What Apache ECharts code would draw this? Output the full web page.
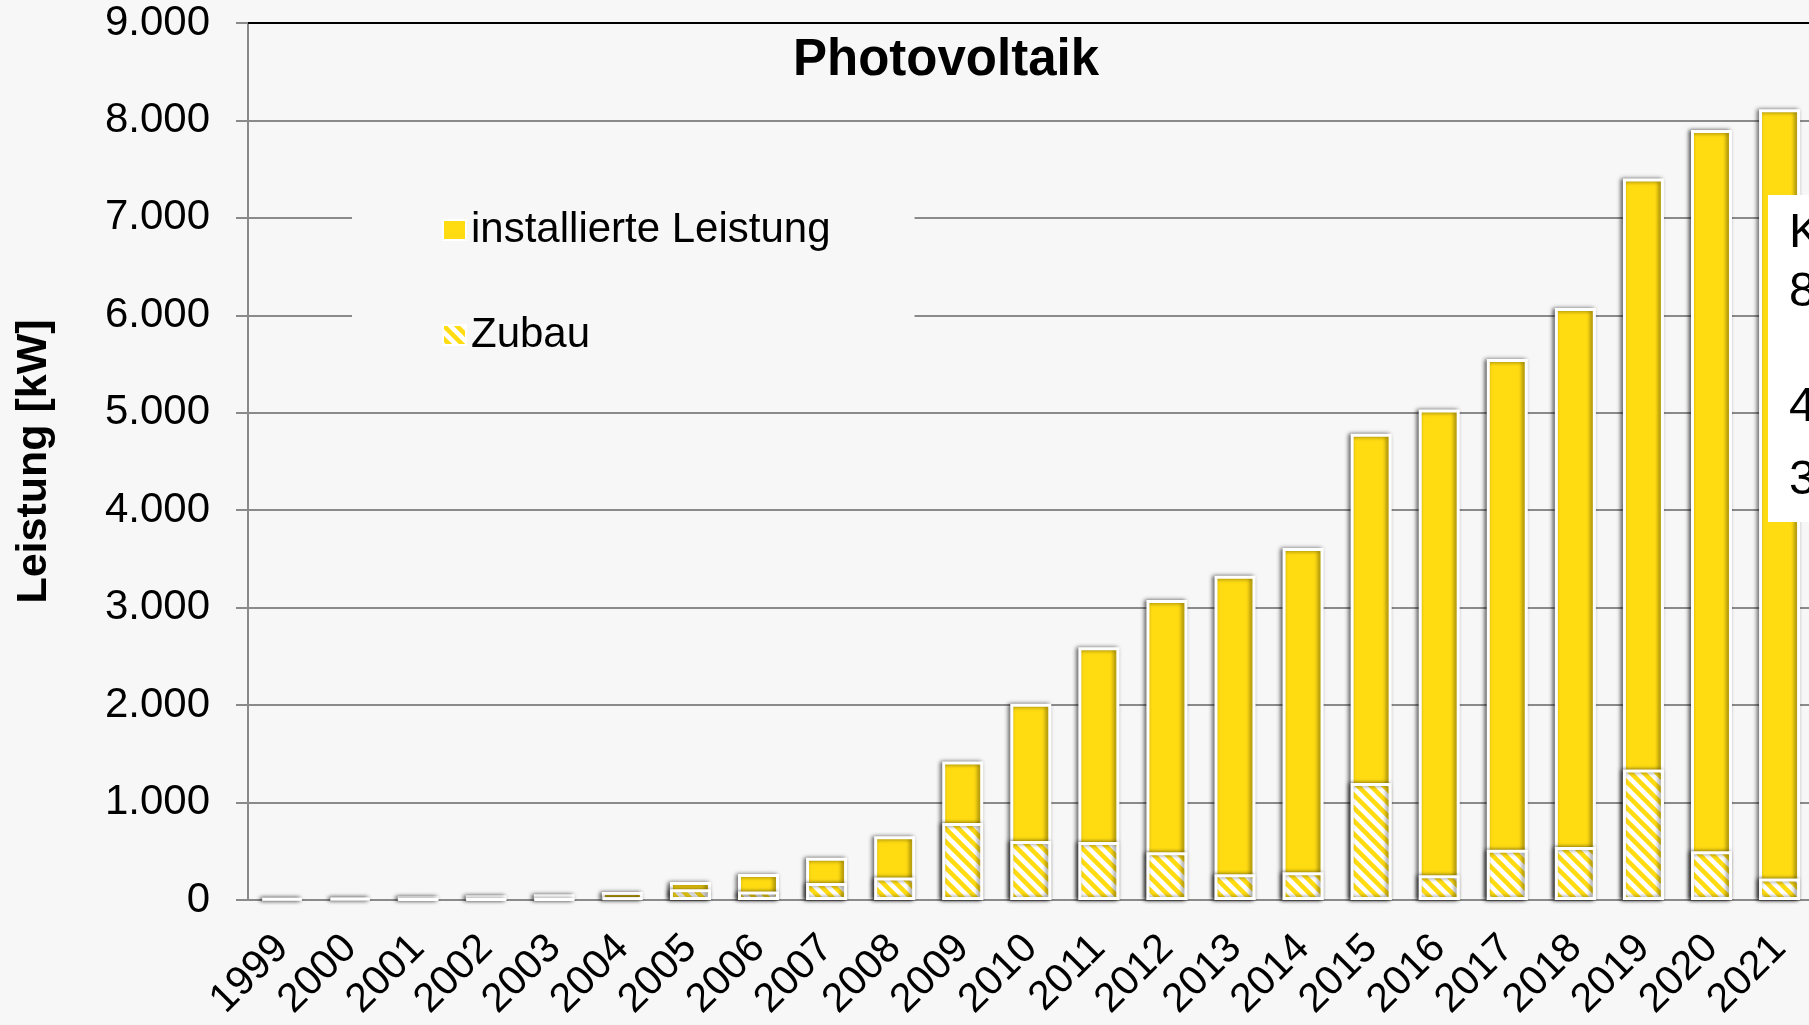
<!DOCTYPE html>
<html>
<head>
<meta charset="utf-8">
<title>Photovoltaik</title>
<script src="https://cdn.jsdelivr.net/npm/echarts@6/dist/echarts.min.js"></script>
<style>
    html, body { margin: 0; padding: 0; overflow: hidden; background: #f7f7f7; }
    #main { width: 1830px; height: 1025px; }
</style>
</head>
<body>
<div id="main"></div>
<script>
    // Daten
    var years = ['1999', '2000', '2001', '2002', '2003', '2004', '2005', '2006', '2007', '2008', '2009', '2010',
        '2011', '2012', '2013', '2014', '2015', '2016', '2017', '2018', '2019', '2020', '2021'];
    var installiert = [15, 30, 38, 48, 58, 82, 184, 266, 433, 655, 1421, 2013,
        2594, 3079, 3328, 3612, 4784, 5033, 5551, 6074, 7405, 7902, 8114];
    var zubau = [15, 14, 8, 10, 10, 24, 110, 88, 175, 230, 790, 605,
        595, 490, 265, 285, 1200, 255, 515, 545, 1340, 500, 220];
    var yTicks = [0, 1000, 2000, 3000, 4000, 5000, 6000, 7000, 8000, 9000];

    var yellow = '#FFDC12';
    var grey = '#8a8a8a';
    var font = 'Liberation Sans, Arial, sans-serif';

    // Schraffur fuer Zubau
    var p = 13;
    var hatch = document.createElement('canvas');
    hatch.width = p;
    hatch.height = p;
    var ctx = hatch.getContext('2d');
    ctx.fillStyle = '#ffffff';
    ctx.fillRect(0, 0, p, p);
    ctx.strokeStyle = yellow;
    ctx.lineWidth = 4.5;
    ctx.beginPath();
    [-p, 0, p].forEach(function (c) {
        ctx.moveTo(c - 2, -2);
        ctx.lineTo(c + p + 2, p + 2);
    });
    ctx.stroke();

    function deNumber(v) {
        return String(v).replace(/\B(?=(\d{3})+(?!\d))/g, '.');
    }

    var barStyle = {
        borderColor: '#ffffff',
        borderWidth: 3,
        shadowColor: 'rgba(0, 0, 0, 0.55)',
        shadowBlur: 4,
        shadowOffsetX: -2
    };

    var option = {
        backgroundColor: '#f7f7f7',
        animation: false,
        textStyle: { fontFamily: font },
        title: {
            text: 'Photovoltaik',
            left: 793,
            top: 35,
            padding: 0,
            textStyle: { fontSize: 51, fontWeight: 'bold', color: '#000', fontFamily: font }
        },
        legend: {
            orient: 'vertical',
            left: 352,
            top: 175,
            padding: [30, 84, 30, 90],
            backgroundColor: '#f7f7f7',
            itemGap: 55,
            itemWidth: 23,
            itemHeight: 20,
            icon: 'rect',
            textStyle: { fontSize: 42, lineHeight: 50, color: '#000', fontFamily: font },
            data: ['installierte Leistung', 'Zubau']
        },
        grid: {
            left: 248,
            top: 23,
            width: 1565.6,
            height: 877
        },
        xAxis: [
            {
                type: 'category',
                data: years,
                axisLine: { lineStyle: { color: grey, width: 2 } },
                axisTick: { length: 12, lineStyle: { color: grey, width: 2 } },
                axisLabel: { interval: 0, rotate: 45, margin: 42, fontSize: 41, color: '#000', fontFamily: font }
            },
            {
                // obere Rahmenlinie
                type: 'category',
                position: 'top',
                data: years,
                axisLine: { lineStyle: { color: '#000', width: 2 } },
                axisTick: { show: false },
                axisLabel: { show: false }
            }
        ],
        yAxis: {
            type: 'value',
            min: yTicks[0],
            max: yTicks[yTicks.length - 1],
            interval: 1000,
            name: 'Leistung [kW]',
            nameLocation: 'middle',
            nameRotate: 90,
            nameGap: 192,
            nameTextStyle: { fontSize: 43, fontWeight: 'bold', color: '#000', fontFamily: font },
            axisLine: { show: true, lineStyle: { color: grey, width: 2 } },
            axisTick: { show: true, length: 12, lineStyle: { color: grey, width: 2 } },
            axisLabel: { margin: 38, fontSize: 42, color: '#000', fontFamily: font, formatter: deNumber },
            splitLine: { lineStyle: { color: grey, width: 2 } }
        },
        series: [
            {
                name: 'installierte Leistung',
                type: 'bar',
                barWidth: 41,
                data: installiert,
                itemStyle: Object.assign({ color: yellow }, barStyle)
            },
            {
                name: 'Zubau',
                type: 'bar',
                barWidth: 41,
                barGap: '-100%',
                data: zubau,
                itemStyle: Object.assign({ color: { image: hatch, repeat: 'repeat' } }, barStyle)
            }
        ],
        // Textfeld rechts (im Original abgeschnitten)
        graphic: [
            {
                type: 'rect',
                z: 100,
                shape: { x: 1768, y: 195, width: 120, height: 327 },
                style: { fill: '#ffffff' }
            },
            { type: 'text', z: 101, x: 1789, y: 234, style: { text: 'K', font: '48px ' + font, fill: '#000', verticalAlign: 'middle' } },
            { type: 'text', z: 101, x: 1789, y: 293, style: { text: '8', font: '48px ' + font, fill: '#000', verticalAlign: 'middle' } },
            { type: 'text', z: 101, x: 1789, y: 408, style: { text: '4', font: '48px ' + font, fill: '#000', verticalAlign: 'middle' } },
            { type: 'text', z: 101, x: 1789, y: 481, style: { text: '3', font: '48px ' + font, fill: '#000', verticalAlign: 'middle' } }
        ]
    };

    var myChart = echarts.init(document.getElementById('main'));
    myChart.setOption(option);
</script>
</body>
</html>
